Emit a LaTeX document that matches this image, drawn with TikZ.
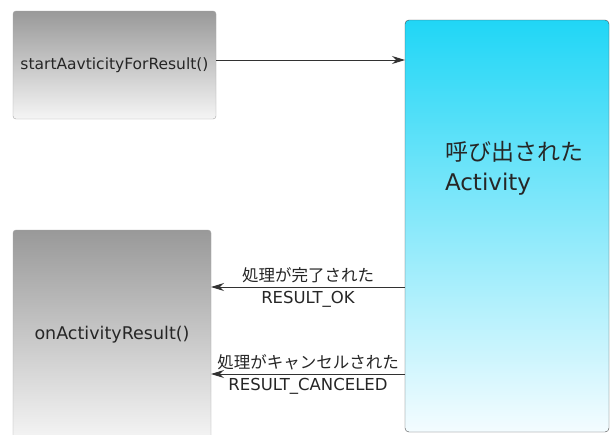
\documentclass[tikz,border=0pt]{standalone}
\usepackage{fontspec}
\setmainfont{DejaVu Sans}
\newfontfamily\jp{Noto Sans CJK JP}
\usepackage{xcolor}
\usetikzlibrary{positioning, arrows.meta}
\definecolor{cyantop}{RGB}{32,214,246}
\definecolor{cyanbottom}{RGB}{244,252,255}
\definecolor{linegray}{RGB}{50,50,50}
\tikzset{
    >={Stealth[length=13pt,width=8pt]},                 % Arrow heads like the drawing
    every node/.style={outer sep=0pt},                  % Arrows touch the boxes
    callbox/.style={draw=gray!70, rounded corners=3pt,
        top color=black!40, bottom color=black!4, text=black!85},  % Grey method boxes
    actbox/.style={draw=black!70, rounded corners=4pt,
        top color=cyantop, bottom color=cyanbottom},    % The called activity
    flow/.style={->, draw=linegray, line width=1pt},    % Calls and results
    msg/.style={font=\fontsize{16.5}{20}\selectfont, text=black!85, inner sep=4pt}
}

\begin{document}
\begin{tikzpicture}
    \useasboundingbox[fill=white] (0,0) rectangle (610pt,-434pt);

    % Define nodes
    \node [callbox, anchor=north west, minimum width=203pt, minimum height=108pt,
           font=\fontsize{15.5}{18}\selectfont] (start) at (13pt,-11pt) {startAavticityForResult()};
    \node [actbox, minimum width=204pt, minimum height=412pt,
           below right=9pt and 189pt of start.north east] (activity) {};
    \node [callbox, minimum width=198pt, minimum height=210pt,
           below=111pt of start.south west, anchor=north west,
           font=\fontsize{17.5}{20}\selectfont] (result) {onActivityResult()};
    \node [below right=121pt and 40pt of activity.north west, inner sep=0pt, align=left,
           font=\fontsize{23}{30}\selectfont, text=black!85] (acttext) {{\jp 呼び出された}\\Activity};

    % Draw transitions
    \draw [flow] ([yshift=5pt]start.east) -- ([yshift=5pt]start.east -| activity.west);
    \draw [flow] ([yshift=-61pt]activity.west) -- ([yshift=-61pt]activity.west -| result.east)
        node [midway, above, msg] (okup) {\jp 処理が完了された}
        node [midway, below, msg] (okdown) {RESULT\_OK};
    \draw [flow] ([yshift=-148pt]activity.west) -- ([yshift=-148pt]activity.west -| result.east)
        node [midway, above, msg] (cancelup) {\jp 処理がキャンセルされた}
        node [midway, below, msg] (canceldown) {RESULT\_CANCELED};
\end{tikzpicture}
\end{document}
